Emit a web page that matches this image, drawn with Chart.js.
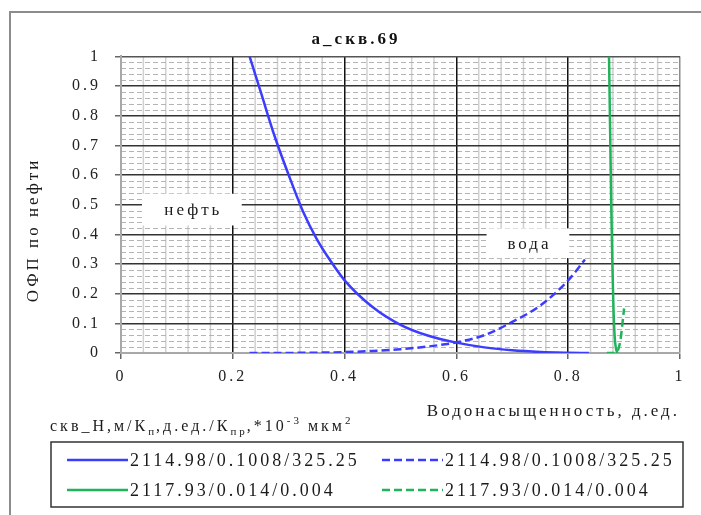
<!DOCTYPE html>
<html>
<head>
<meta charset="utf-8">
<script src="https://cdn.jsdelivr.net/npm/chart.js@4.4.1/dist/chart.umd.min.js"></script>
<style>
html,body{margin:0;padding:0;background:#fff}
canvas{display:block}
</style>
</head>
<body>
<canvas id="ofp" width="701" height="515"></canvas>
<script>
// ── ОФП: водонасыщенность (д.ед.) → относительная проницаемость ──
// скв. 2114.98 — нефть / вода
const sw1Oil=[0.23,0.25,0.275,0.30,0.325,0.35,0.375,0.40,0.45,0.50,0.55,0.60,0.65,0.70,0.75,0.80,0.837];
const kr1Oil=[1.0,0.88,0.73,0.60,0.48,0.385,0.31,0.245,0.155,0.095,0.058,0.035,0.019,0.009,0.0035,0.001,0];
const sw1Wat=[0.23,0.30,0.40,0.45,0.50,0.55,0.60,0.65,0.70,0.75,0.80,0.83];
const kr1Wat=[0,0.0003,0.003,0.007,0.013,0.022,0.036,0.06,0.105,0.16,0.245,0.315];
// скв. 2117.93 — нефть / вода
const sw2Oil=[0.873,0.875,0.877,0.879,0.881,0.883,0.885,0.888];
const kr2Oil=[1.0,0.75,0.5,0.3,0.15,0.06,0.02,0];
const sw2Wat=[0.869,0.88,0.886,0.89,0.894,0.897,0.90];
const kr2Wat=[0,0,0.003,0.015,0.05,0.1,0.15];

const seriesNames=['2114.98/0.1008/325.25','2114.98/0.1008/325.25','2117.93/0.014/0.004','2117.93/0.014/0.004'];
const xTicks=[0,0.2,0.4,0.6,0.8,1];
const xTickLabels=['0','0.2','0.4','0.6','0.8','1'];
const yTicks=[0,0.1,0.2,0.3,0.4,0.5,0.6,0.7,0.8,0.9,1];
const yTickLabels=['0','0.1','0.2','0.3','0.4','0.5','0.6','0.7','0.8','0.9','1'];

// подписи фаз в белых плашках (границы плашек в единицах осей)
const phaseLabels=[
  {text:'нефть',x0:0.0375,x1:0.216,y0:0.43,y1:0.537},
  {text:'вода',x0:0.654,x1:0.802,y0:0.32,y1:0.42}
];
// заголовок легенды: [текст, 0 — обычный, 1 — нижний индекс, -1 — верхний]
const legendTitle=[['скв_Н,м/К',0],['п',1],[',д.ед./К',0],['пр',1],[',*10',0],['-3',-1],[' мкм',0],['2',-1]];

const SERIF='"Liberation Serif", "Times New Roman", serif';
const BLUE='#3c3cff', GREEN='#20b35a';
const pts=(xs,ys)=>xs.map((v,i)=>({x:v,y:ys[i]}));

const ofpDecor={
  id:'ofpDecor',
  beforeLayout(chart){chart.ctx.letterSpacing='3px';},
  beforeDraw(chart){
    const {ctx,chartArea:a,scales:{x,y}}=chart;
    ctx.letterSpacing='3px';
    ctx.save();
    ctx.fillStyle='#fff';ctx.fillRect(0,0,chart.width,chart.height);
    // внешняя рамка
    ctx.strokeStyle='#8c8c8c';ctx.lineWidth=2;
    ctx.beginPath();ctx.moveTo(10,chart.height);ctx.lineTo(10,12);ctx.lineTo(chart.width,12);ctx.stroke();
    // вспомогательная сетка по X (шаг 0.04)
    ctx.strokeStyle='#d0d0d0';ctx.lineWidth=1.5;
    for(let i=1;i<25;i++){
      if(i%5===0)continue;
      const px=x.getPixelForValue(i*0.04);
      ctx.beginPath();ctx.moveTo(px,a.top);ctx.lineTo(px,a.bottom);ctx.stroke();
    }
    // вспомогательная сетка по Y (шаг 0.02), пунктир
    ctx.strokeStyle='#b4b4b4';ctx.lineWidth=1;ctx.setLineDash([5,3]);
    for(let i=1;i<50;i++){
      if(i%5===0)continue;
      const py=Math.round(y.getPixelForValue(i*0.02))+0.5;
      ctx.beginPath();ctx.moveTo(a.left,py);ctx.lineTo(a.right,py);ctx.stroke();
    }
    ctx.restore();
  },
  beforeDatasetsDraw(chart){
    const {ctx,scales:{x,y}}=chart;
    ctx.save();
    ctx.font='17px '+SERIF;ctx.textAlign='center';ctx.textBaseline='middle';
    phaseLabels.forEach(l=>{
      const L=x.getPixelForValue(l.x0),R=x.getPixelForValue(l.x1);
      const T=y.getPixelForValue(l.y1),B=y.getPixelForValue(l.y0);
      ctx.fillStyle='#fff';ctx.fillRect(L,T,R-L,B-T);
      ctx.fillStyle='#1a1a1a';ctx.fillText(l.text,(L+R)/2+1.5,(T+B)/2+1);
    });
    ctx.restore();
  },
  afterDraw(chart){
    const {ctx}=chart;
    ctx.save();
    ctx.fillStyle='#1a1a1a';
    // подпись оси Y
    ctx.save();
    ctx.translate(34,230);ctx.rotate(-Math.PI/2);
    ctx.font='17px '+SERIF;ctx.textAlign='center';ctx.textBaseline='middle';
    ctx.fillText('ОФП по нефти',0,0);
    ctx.restore();
    // заголовок легенды с индексами
    let tx=50;const base=431;
    ctx.textAlign='left';ctx.textBaseline='alphabetic';
    legendTitle.forEach(([t,m])=>{
      ctx.font=(m?'11px ':'16px ')+SERIF;
      ctx.fillText(t,tx,base+(m===1?4:m===-1?-7:0));
      tx+=ctx.measureText(t).width-(m?1:0);
    });
    // рамка легенды
    ctx.strokeStyle='#333';ctx.lineWidth=1.5;
    ctx.strokeRect(51,442,632,65);
    // элементы легенды: 2 столбца × 2 строки
    const colX=[67,382],rowY=[460,490];
    ctx.font='18px '+SERIF;ctx.textBaseline='middle';
    chart.data.datasets.forEach((ds,i)=>{
      const cx=colX[i%2],cy=rowY[Math.floor(i/2)];
      ctx.strokeStyle=ds.borderColor;ctx.lineWidth=2.5;ctx.setLineDash(ds.borderDash||[]);
      ctx.beginPath();ctx.moveTo(cx,cy);ctx.lineTo(cx+61,cy);ctx.stroke();
      ctx.setLineDash([]);
      ctx.fillStyle='#1a1a1a';ctx.fillText(ds.label,cx+63,cy+1);
    });
    ctx.restore();
  }
};

new Chart(document.getElementById('ofp'),{
  type:'line',
  data:{datasets:[
    {label:seriesNames[0],data:pts(sw1Oil,kr1Oil),borderColor:BLUE,borderWidth:2.5,pointRadius:0,fill:false,cubicInterpolationMode:'monotone'},
    {label:seriesNames[1],data:pts(sw1Wat,kr1Wat),borderColor:BLUE,borderWidth:2.5,borderDash:[8,4],pointRadius:0,fill:false,cubicInterpolationMode:'monotone'},
    {label:seriesNames[2],data:pts(sw2Oil,kr2Oil),borderColor:GREEN,borderWidth:2.5,pointRadius:0,fill:false,cubicInterpolationMode:'monotone'},
    {label:seriesNames[3],data:pts(sw2Wat,kr2Wat),borderColor:GREEN,borderWidth:2.5,borderDash:[8,4],pointRadius:0,fill:false,cubicInterpolationMode:'monotone'}
  ]},
  options:{
    responsive:false,animation:false,
    layout:{padding:{left:32,right:21,top:0,bottom:0}},
    plugins:{
      legend:{display:false},tooltip:{enabled:false},
      title:{display:true,text:'a_скв.69',color:'#111',font:{family:SERIF,size:17,weight:'bold'},padding:{top:29,bottom:7}}
    },
    scales:{
      x:{type:'linear',min:0,max:1,
        afterBuildTicks:s=>{s.ticks=xTicks.map(v=>({value:v}));},
        afterFit:s=>{s.height=162;},
        ticks:{callback:(v,i)=>xTickLabels[i],font:{family:SERIF,size:16},color:'#222',padding:8,maxRotation:0,autoSkip:false},
        grid:{color:c=>c.tick.value===0?'#a8a8a8':c.tick.value===1?'#8c8c8c':'#111',lineWidth:1.5,tickLength:6,tickColor:'#666',tickWidth:1.5},
        border:{color:'#a8a8a8',width:2},
        title:{display:true,text:'Водонасыщенность, д.ед.',align:'end',color:'#1a1a1a',font:{family:SERIF,size:17},padding:{top:0,bottom:93}}
      },
      y:{type:'linear',min:0,max:1,
        afterBuildTicks:s=>{s.ticks=yTicks.map(v=>({value:v}));},
        afterFit:s=>{s.width=89;},
        ticks:{callback:(v,i)=>yTickLabels[i],font:{family:SERIF,size:16},color:'#222',padding:14,autoSkip:false},
        grid:{color:c=>c.tick.value===0?'#a8a8a8':c.tick.value===1?'#555':'#333',lineWidth:1.5,tickLength:6,tickColor:'#666',tickWidth:1.5},
        border:{color:'#a8a8a8',width:2}
      }
    }
  },
  plugins:[ofpDecor]
});
</script>
</body>
</html>
